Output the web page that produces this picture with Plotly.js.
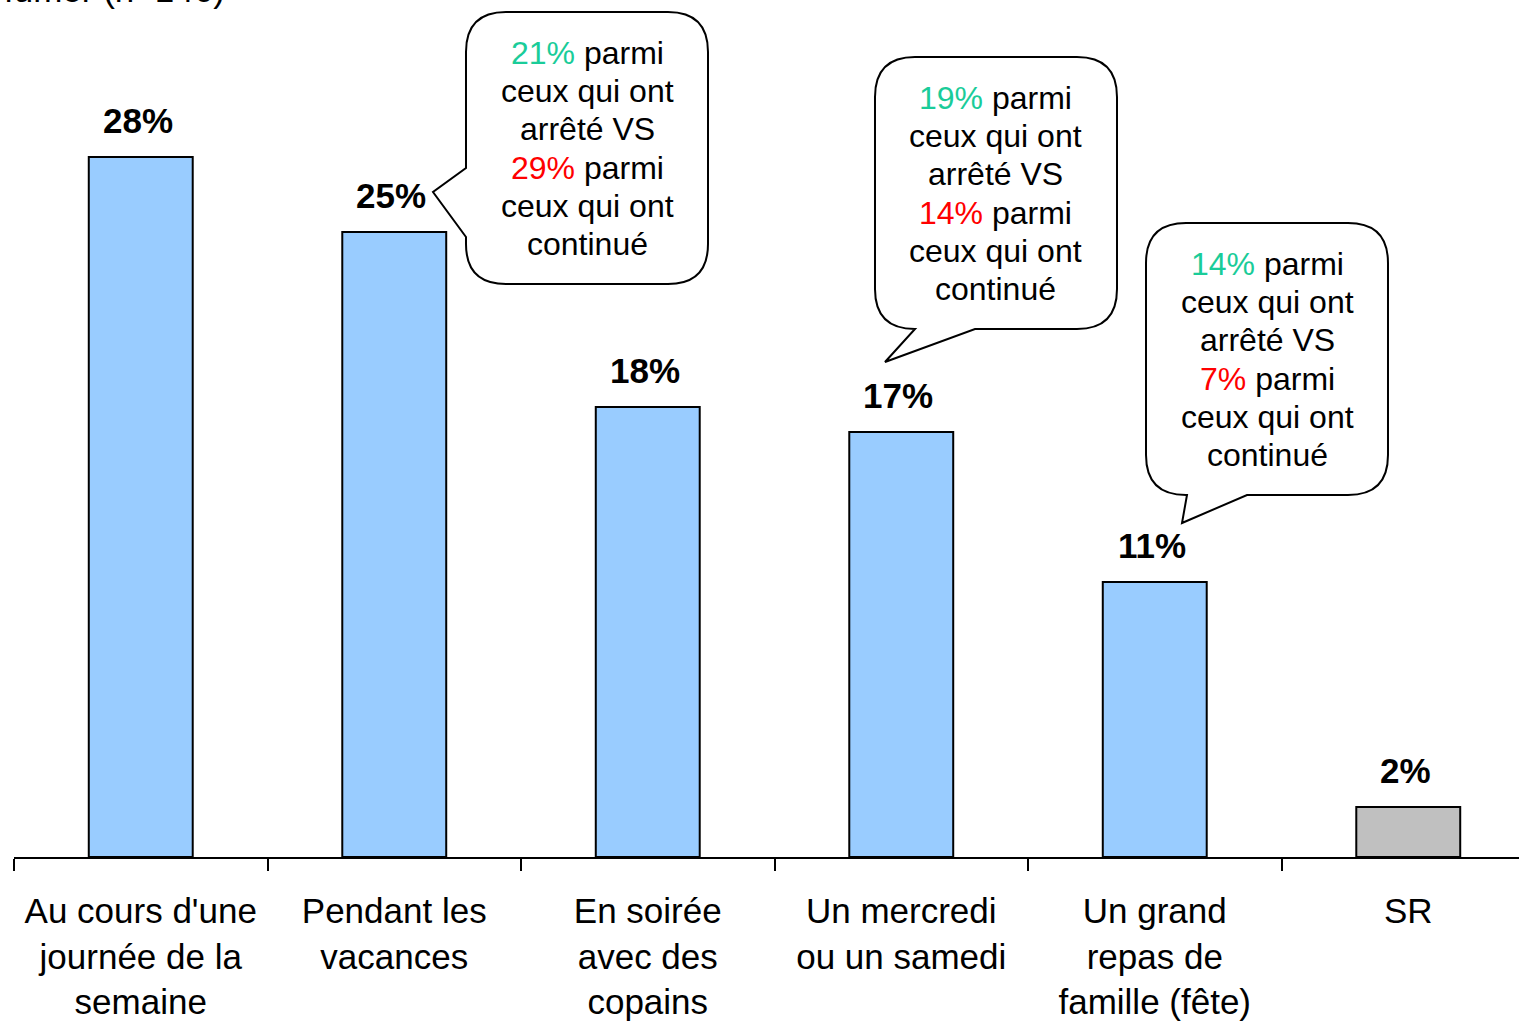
<!DOCTYPE html>
<html>
<head>
<meta charset="utf-8">
<script src="https://cdn.plot.ly/plotly-3.0.1.min.js"></script>
<style>
html,body{margin:0;padding:0;overflow:hidden;background:#fff;}
#chart{width:1535px;height:1022px;}
</style>
</head>
<body>
<div id="chart"></div>
<script>
// ---- data ----
const categories = [
  "Au cours d'une<br>journée de la<br>semaine",
  "Pendant les<br>vacances",
  "En soirée<br>avec des<br>copains",
  "Un mercredi<br>ou un samedi",
  "Un grand<br>repas de<br>famille (fête)",
  "SR"
];
const values = [28, 25, 18, 17, 11, 2];
const valueLabels = ["28%", "25%", "18%", "17%", "11%", "2%"];
const barColors = ["#99CCFF", "#99CCFF", "#99CCFF", "#99CCFF", "#99CCFF", "#C0C0C0"];
const stoppedPct = ["21%", "19%", "14%"];
const continuedPct = ["29%", "14%", "7%"];
const titleFragment = "fumer (n=146)";

// ---- geometry helpers (pixel -> paper) ----
const PL = 14, PW = 1521, PH = 857;
const px = x => (x - PL) / PW;
const py = y => 1 - y / PH;

function bubblePath(x0, y0, x1, y1, r, tail) {
  const P = (x, y) => px(x).toFixed(5) + ',' + py(y).toFixed(5);
  let d = 'M' + P(x0 + r, y0) + ' L' + P(x1 - r, y0) + ' Q' + P(x1, y0) + ' ' + P(x1, y0 + r);
  d += ' L' + P(x1, y1 - r) + ' Q' + P(x1, y1) + ' ' + P(x1 - r, y1);
  if (tail.side === 'bottom') {
    d += ' L' + P(tail.a[0], tail.a[1]) + ' L' + P(tail.tip[0], tail.tip[1]) + ' L' + P(tail.b[0], tail.b[1]);
  }
  d += ' L' + P(x0 + r, y1) + ' Q' + P(x0, y1) + ' ' + P(x0, y1 - r);
  if (tail.side === 'left') {
    d += ' L' + P(tail.a[0], tail.a[1]) + ' L' + P(tail.tip[0], tail.tip[1]) + ' L' + P(tail.b[0], tail.b[1]);
  }
  d += ' L' + P(x0, y0 + r) + ' Q' + P(x0, y0) + ' ' + P(x0 + r, y0) + ' Z';
  return d;
}

const bubbles = [
  {box: [466, 12, 708, 284], tail: {side: 'left', a: [466, 237], tip: [433, 192], b: [466, 168]}, cx: 587, top: 53},
  {box: [875, 57, 1117, 329], tail: {side: 'bottom', a: [975, 329], tip: [885, 362], b: [915, 329]}, cx: 995, top: 98},
  {box: [1146, 223, 1388, 495], tail: {side: 'bottom', a: [1247, 495], tip: [1182, 523], b: [1187, 495]}, cx: 1267, top: 264}
];

const GREEN = "#1ACC99", RED = "#FF0000";
const shapes = [];
const annotations = [];

bubbles.forEach((b, i) => {
  shapes.push({
    type: 'path', xref: 'paper', yref: 'paper',
    path: bubblePath(b.box[0], b.box[1], b.box[2], b.box[3], 40, b.tail),
    fillcolor: '#FFFFFF', line: {color: '#000000', width: 2}, layer: 'above'
  });
  const lines = [
    '<span style="color:' + GREEN + '">' + stoppedPct[i] + '</span> parmi',
    'ceux qui ont',
    'arrêté VS',
    '<span style="color:' + RED + '">' + continuedPct[i] + '</span> parmi',
    'ceux qui ont',
    'continué'
  ];
  lines.forEach((t, k) => {
    annotations.push({
      xref: 'paper', yref: 'paper', x: px(b.cx), y: py(b.top + k * 38.2),
      xanchor: 'center', yanchor: 'middle', showarrow: false, text: t,
      font: {family: 'Liberation Sans, Arial, sans-serif', size: 32, color: '#000'}
    });
  });
});

// value labels above bars
categories.forEach((c, i) => {
  annotations.push({
    x: c, y: values[i], xref: 'x', yref: 'y', text: '<b>' + valueLabels[i] + '</b>',
    showarrow: false, xanchor: 'center', yanchor: 'bottom', yshift: 15, xshift: -3,
    font: {family: 'Liberation Sans, Arial, sans-serif', size: 35, color: '#000'}
  });
});

// cut-off title line at the top
annotations.push({
  xref: 'paper', yref: 'paper', x: px(2), y: py(11), xanchor: 'left', yanchor: 'bottom',
  showarrow: false, text: titleFragment,
  font: {family: 'Liberation Sans, Arial, sans-serif', size: 35, color: '#000'}
});

const trace = {
  type: 'bar', x: categories, y: values,
  marker: {color: barColors, line: {color: '#000000', width: 2}},
  width: 0.41, hoverinfo: 'none', cliponaxis: false
};

const layout = {
  width: 1535, height: 1022,
  margin: {l: 14, r: 0, t: 0, b: 165},
  paper_bgcolor: '#FFFFFF', plot_bgcolor: '#FFFFFF',
  showlegend: false,
  font: {family: 'Liberation Sans, Arial, sans-serif', color: '#000'},
  xaxis: {
    type: 'category', tickson: 'boundaries', ticks: 'outside', ticklen: 12, tickwidth: 2, tickcolor: '#000',
    showline: true, linecolor: '#000', linewidth: 2, showgrid: false, zeroline: false,
    tickfont: {family: 'Liberation Sans, Arial, sans-serif', size: 35, color: '#000'},
    ticklabelstandoff: 22, automargin: false
  },
  yaxis: {range: [0, 34.28], visible: false, showgrid: false, zeroline: false, fixedrange: true},
  shapes: shapes, annotations: annotations
};

Plotly.newPlot('chart', [trace], layout, {displayModeBar: false, staticPlot: true});
</script>
</body>
</html>
